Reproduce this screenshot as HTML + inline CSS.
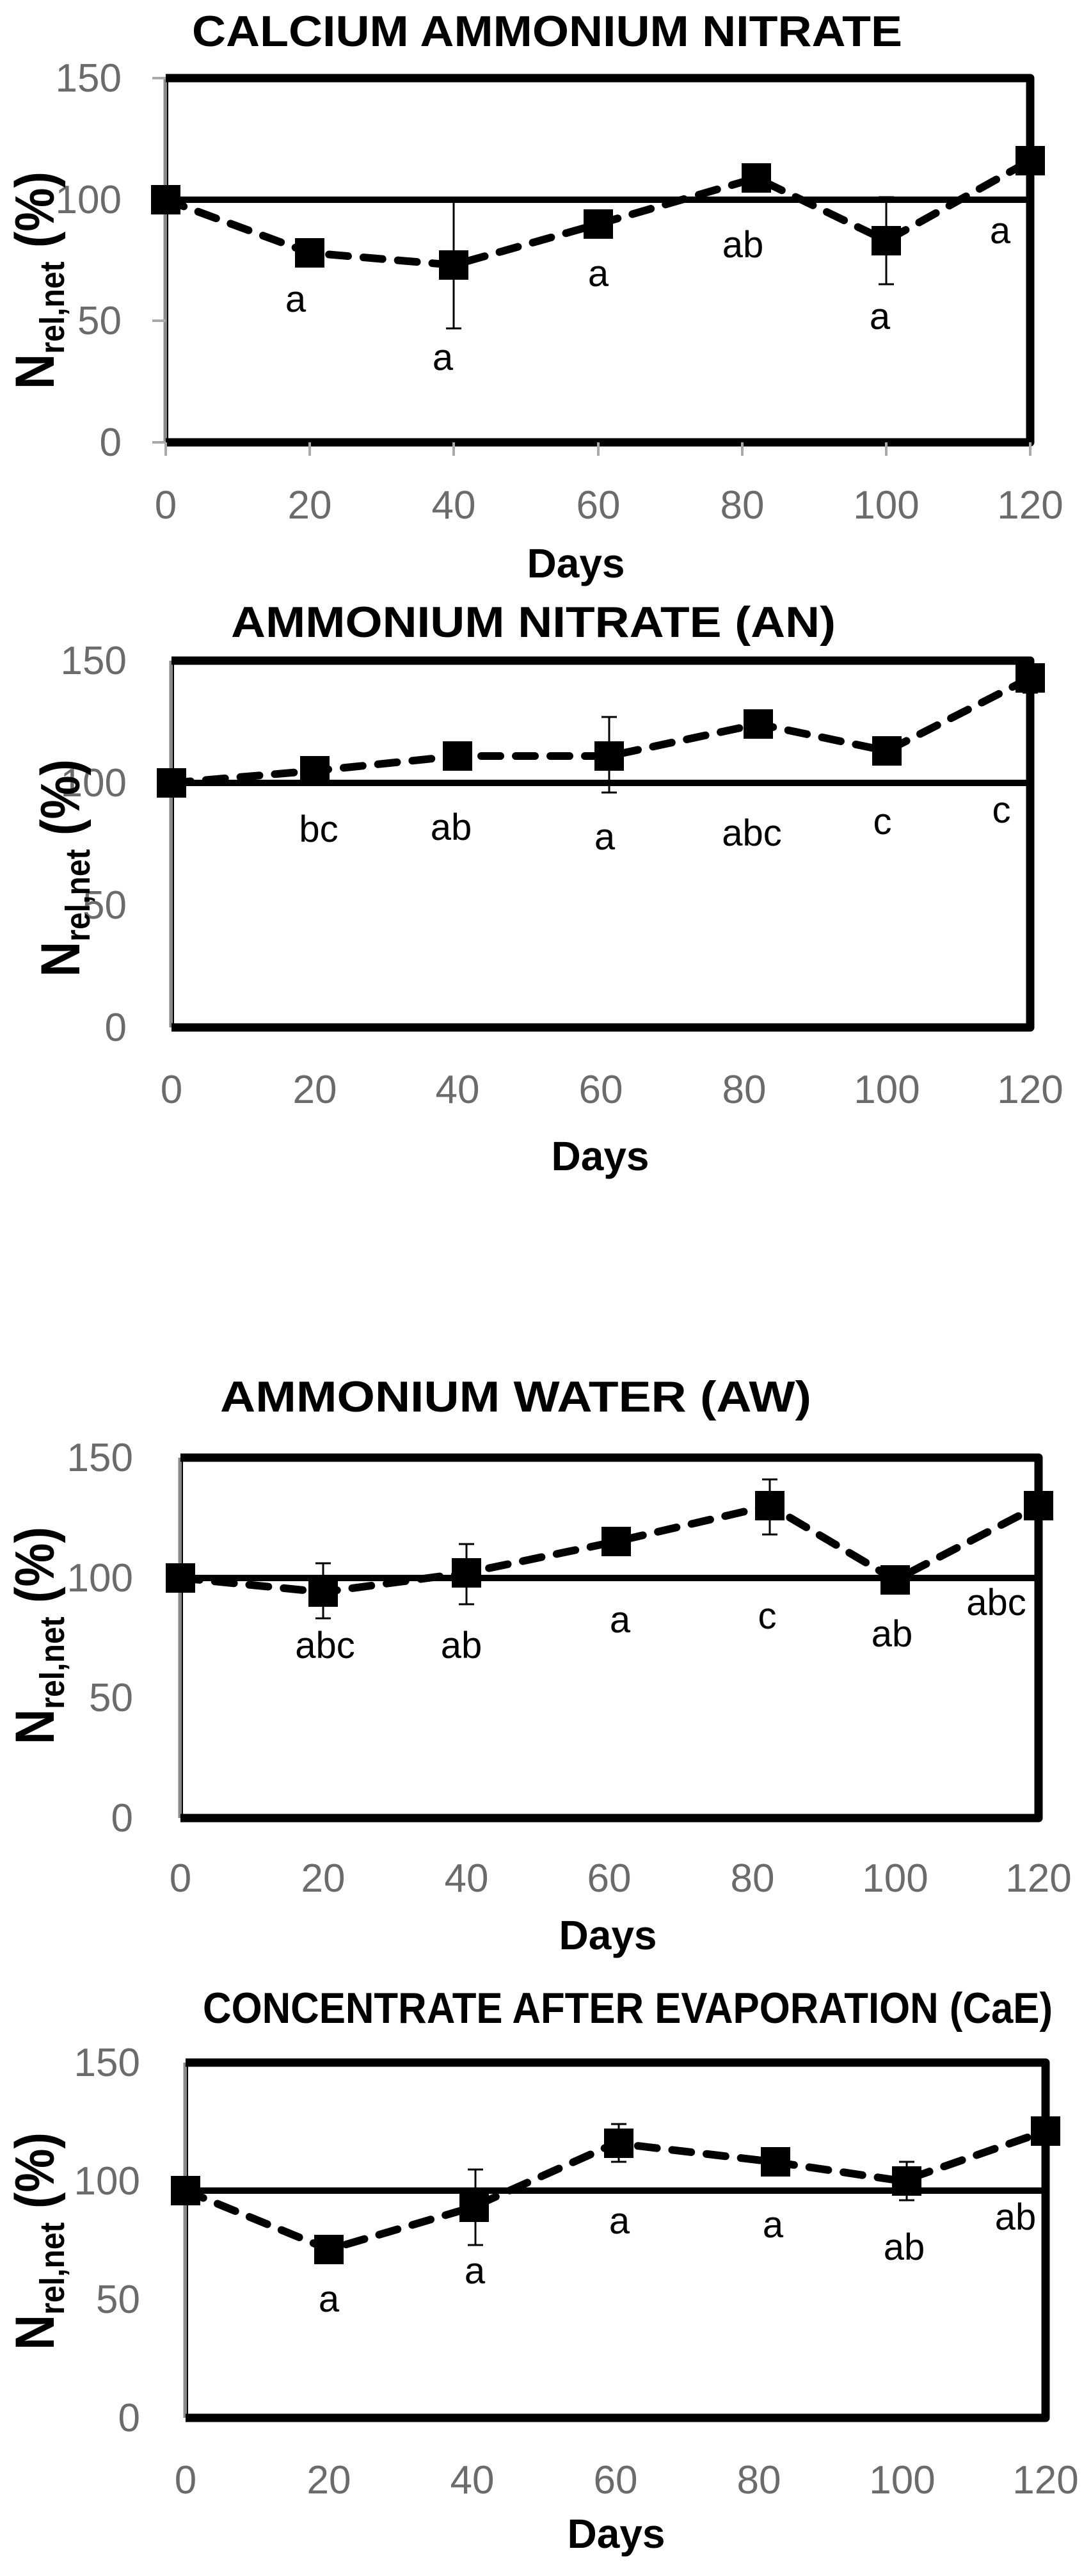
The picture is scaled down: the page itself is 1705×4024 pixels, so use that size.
<!DOCTYPE html>
<html><head><meta charset="utf-8"><style>
html,body{margin:0;padding:0;background:#fff;}
svg{display:block;}
text{font-family:"Liberation Sans",sans-serif;}
.t{font-weight:bold;font-size:68px;fill:#000;}
.tk{font-size:62px;fill:#6b6b6b;}
.ax{font-weight:bold;font-size:64px;fill:#000;}
.lb{font-size:58px;fill:#000;}
.yl{font-weight:bold;font-size:86px;fill:#000;}
.ys{font-weight:bold;font-size:54px;}
.fr{fill:none;stroke:#000;stroke-width:13;stroke-linejoin:round;}
.ls{fill:none;stroke:#8a8a8a;stroke-width:7;}
.ref{stroke:#000;stroke-width:10;}
.ds{fill:none;stroke:#000;stroke-width:12;stroke-dasharray:30 24;stroke-linecap:round;}
.eb{stroke:#000;stroke-width:3;fill:none;}
</style></head><body>
<svg width="1705" height="4024" viewBox="0 0 1705 4024" xmlns="http://www.w3.org/2000/svg">

<!-- Chart 1 -->
<g>
<text class="t" x="300" y="72" textLength="1110" lengthAdjust="spacingAndGlyphs">CALCIUM AMMONIUM NITRATE</text>
<line x1="259" y1="122" x2="259" y2="691" class="ls"/>
<line x1="262" y1="122" x2="262" y2="691" stroke="#000" stroke-width="2"/>
<polyline class="fr" points="259,122 1610,122 1610,691 259,691"/>
<g stroke="#aaa" stroke-width="4">
<line x1="238" y1="122" x2="259" y2="122"/><line x1="238" y1="312" x2="259" y2="312"/><line x1="238" y1="501" x2="259" y2="501"/><line x1="238" y1="691" x2="259" y2="691"/>
<line x1="259" y1="691" x2="259" y2="712"/><line x1="484" y1="691" x2="484" y2="712"/><line x1="709" y1="691" x2="709" y2="712"/><line x1="935" y1="691" x2="935" y2="712"/><line x1="1160" y1="691" x2="1160" y2="712"/><line x1="1385" y1="691" x2="1385" y2="712"/><line x1="1610" y1="691" x2="1610" y2="712"/>
</g>
<line class="ref" x1="259" y1="312" x2="1610" y2="312"/>
<g class="tk" text-anchor="end"><text x="190" y="143">150</text><text x="190" y="333">100</text><text x="190" y="522">50</text><text x="190" y="712">0</text></g>
<g class="tk" text-anchor="middle"><text x="259" y="810">0</text><text x="484" y="810">20</text><text x="709" y="810">40</text><text x="935" y="810">60</text><text x="1160" y="810">80</text><text x="1385" y="810">100</text><text x="1610" y="810">120</text></g>
<text class="ax" x="900" y="902" text-anchor="middle">Days</text>
<text class="yl" transform="translate(84,438) rotate(-90)" text-anchor="middle" textLength="340" lengthAdjust="spacingAndGlyphs">N<tspan class="ys" dy="16">rel,net</tspan><tspan dy="-16">  (%)</tspan></text>
<g class="eb"><line x1="709" y1="312" x2="709" y2="513"/><line x1="697" y1="513" x2="721" y2="513"/><line x1="1385" y1="308" x2="1385" y2="444"/><line x1="1373" y1="308" x2="1397" y2="308"/><line x1="1373" y1="444" x2="1397" y2="444"/></g>
<polyline class="ds" points="259,312 484,395 709,414 935,350 1182,278 1385,376 1610,251"/>
<g fill="#000"><rect x="236" y="289" width="46" height="46"/><rect x="461" y="372" width="46" height="46"/><rect x="686" y="391" width="46" height="46"/><rect x="912" y="327" width="46" height="46"/><rect x="1159" y="255" width="46" height="46"/><rect x="1362" y="353" width="46" height="46"/><rect x="1587" y="228" width="46" height="46"/></g>
<g class="lb" text-anchor="middle"><text x="462" y="487">a</text><text x="692" y="578">a</text><text x="935" y="447">a</text><text x="1161" y="402">ab</text><text x="1375" y="514">a</text><text x="1563" y="380">a</text></g>
</g>

<!-- Chart 2 -->
<g>
<text class="t" x="361" y="995" textLength="945" lengthAdjust="spacingAndGlyphs">AMMONIUM NITRATE (AN)</text>
<line x1="268" y1="1032" x2="268" y2="1605" class="ls"/>
<line x1="271" y1="1032" x2="271" y2="1605" stroke="#000" stroke-width="2"/>
<polyline class="fr" points="268,1032 1610,1032 1610,1605 268,1605"/>
<line class="ref" x1="268" y1="1223" x2="1610" y2="1223"/>
<g class="tk" text-anchor="end"><text x="198" y="1053">150</text><text x="198" y="1244">100</text><text x="198" y="1435">50</text><text x="198" y="1626">0</text></g>
<g class="tk" text-anchor="middle"><text x="268" y="1723">0</text><text x="492" y="1723">20</text><text x="715" y="1723">40</text><text x="939" y="1723">60</text><text x="1163" y="1723">80</text><text x="1386" y="1723">100</text><text x="1610" y="1723">120</text></g>
<text class="ax" x="938" y="1828" text-anchor="middle">Days</text>
<text class="yl" transform="translate(124,1356) rotate(-90)" text-anchor="middle" textLength="340" lengthAdjust="spacingAndGlyphs">N<tspan class="ys" dy="16">rel,net</tspan><tspan dy="-16">  (%)</tspan></text>
<g class="eb"><line x1="952" y1="1120" x2="952" y2="1238"/><line x1="940" y1="1120" x2="964" y2="1120"/><line x1="940" y1="1238" x2="964" y2="1238"/><line x1="1598" y1="1082" x2="1622" y2="1082"/></g>
<polyline class="ds" points="268,1223 492,1204 715,1181 952,1181 1185,1131 1386,1173 1610,1059"/>
<g fill="#000"><rect x="245" y="1200" width="46" height="46"/><rect x="469" y="1181" width="46" height="46"/><rect x="692" y="1158" width="46" height="46"/><rect x="929" y="1158" width="46" height="46"/><rect x="1162" y="1108" width="46" height="46"/><rect x="1363" y="1150" width="46" height="46"/><rect x="1587" y="1036" width="46" height="46"/></g>
<g class="lb" text-anchor="middle"><text x="498" y="1315">bc</text><text x="705" y="1312">ab</text><text x="945" y="1327">a</text><text x="1175" y="1321">abc</text><text x="1379" y="1303">c</text><text x="1565" y="1285">c</text></g>
</g>

<!-- Chart 3 -->
<g>
<text class="t" x="344" y="2205" textLength="924" lengthAdjust="spacingAndGlyphs">AMMONIUM WATER (AW)</text>
<line x1="282" y1="2277" x2="282" y2="2840" class="ls"/>
<line x1="285" y1="2277" x2="285" y2="2840" stroke="#000" stroke-width="2"/>
<polyline class="fr" points="282,2277 1623,2277 1623,2840 282,2840"/>
<line class="ref" x1="282" y1="2465" x2="1623" y2="2465"/>
<g class="tk" text-anchor="end"><text x="208" y="2298">150</text><text x="208" y="2486">100</text><text x="208" y="2673">50</text><text x="208" y="2861">0</text></g>
<g class="tk" text-anchor="middle"><text x="282" y="2955">0</text><text x="505" y="2955">20</text><text x="729" y="2955">40</text><text x="952" y="2955">60</text><text x="1176" y="2955">80</text><text x="1399" y="2955">100</text><text x="1623" y="2955">120</text></g>
<text class="ax" x="950" y="3045" text-anchor="middle">Days</text>
<text class="yl" transform="translate(84,2555) rotate(-90)" text-anchor="middle" textLength="340" lengthAdjust="spacingAndGlyphs">N<tspan class="ys" dy="16">rel,net</tspan><tspan dy="-16">  (%)</tspan></text>
<g class="eb"><line x1="505" y1="2442" x2="505" y2="2528"/><line x1="493" y1="2442" x2="517" y2="2442"/><line x1="493" y1="2528" x2="517" y2="2528"/>
<line x1="729" y1="2412" x2="729" y2="2506"/><line x1="717" y1="2412" x2="741" y2="2412"/><line x1="717" y1="2506" x2="741" y2="2506"/>
<line x1="1203" y1="2311" x2="1203" y2="2397"/><line x1="1191" y1="2311" x2="1215" y2="2311"/><line x1="1191" y1="2397" x2="1215" y2="2397"/></g>
<polyline class="ds" points="282,2465 505,2487 729,2457 963,2408 1203,2352 1399,2468 1623,2352"/>
<g fill="#000"><rect x="259" y="2442" width="46" height="46"/><rect x="482" y="2464" width="46" height="46"/><rect x="706" y="2434" width="46" height="46"/><rect x="940" y="2385" width="46" height="46"/><rect x="1180" y="2329" width="46" height="46"/><rect x="1376" y="2445" width="46" height="46"/><rect x="1600" y="2329" width="46" height="46"/></g>
<g class="lb" text-anchor="middle"><text x="508" y="2590">abc</text><text x="721" y="2590">ab</text><text x="969" y="2550">a</text><text x="1199" y="2544">c</text><text x="1394" y="2572">ab</text><text x="1557" y="2523">abc</text></g>
</g>

<!-- Chart 4 -->
<g>
<text class="t" x="317" y="3160" textLength="1328" lengthAdjust="spacingAndGlyphs">CONCENTRATE AFTER EVAPORATION (CaE)</text>
<line x1="290" y1="3222" x2="290" y2="3777" class="ls"/>
<line x1="293" y1="3222" x2="293" y2="3777" stroke="#000" stroke-width="2"/>
<polyline class="fr" points="290,3222 1634,3222 1634,3777 290,3777"/>
<line class="ref" x1="290" y1="3422" x2="1634" y2="3422"/>
<g class="tk" text-anchor="end"><text x="219" y="3243">150</text><text x="219" y="3428">100</text><text x="219" y="3613">50</text><text x="219" y="3798">0</text></g>
<g class="tk" text-anchor="middle"><text x="290" y="3895">0</text><text x="514" y="3895">20</text><text x="738" y="3895">40</text><text x="962" y="3895">60</text><text x="1186" y="3895">80</text><text x="1410" y="3895">100</text><text x="1634" y="3895">120</text></g>
<text class="ax" x="963" y="3980" text-anchor="middle">Days</text>
<text class="yl" transform="translate(84,3501) rotate(-90)" text-anchor="middle" textLength="340" lengthAdjust="spacingAndGlyphs">N<tspan class="ys" dy="16">rel,net</tspan><tspan dy="-16">  (%)</tspan></text>
<g class="eb"><line x1="743" y1="3389" x2="743" y2="3507"/><line x1="731" y1="3389" x2="755" y2="3389"/><line x1="731" y1="3507" x2="755" y2="3507"/>
<line x1="967" y1="3318" x2="967" y2="3377"/><line x1="955" y1="3318" x2="979" y2="3318"/><line x1="955" y1="3377" x2="979" y2="3377"/>
<line x1="1417" y1="3377" x2="1417" y2="3437"/><line x1="1405" y1="3377" x2="1429" y2="3377"/><line x1="1405" y1="3437" x2="1429" y2="3437"/></g>
<polyline class="ds" points="290,3422 514,3514 738,3448 962,3348 1208,3377 1410,3407 1634,3329"/>
<g fill="#000"><rect x="267" y="3399" width="46" height="46"/><rect x="491" y="3491" width="46" height="46"/><rect x="718" y="3425" width="46" height="46"/><rect x="944" y="3325" width="46" height="46"/><rect x="1189" y="3354" width="46" height="46"/><rect x="1394" y="3384" width="46" height="46"/><rect x="1611" y="3306" width="46" height="46"/></g>
<g class="lb" text-anchor="middle"><text x="514" y="3611">a</text><text x="742" y="3567">a</text><text x="968" y="3489">a</text><text x="1208" y="3495">a</text><text x="1413" y="3530">ab</text><text x="1587" y="3483">ab</text></g>
</g>
</svg>
</body></html>
